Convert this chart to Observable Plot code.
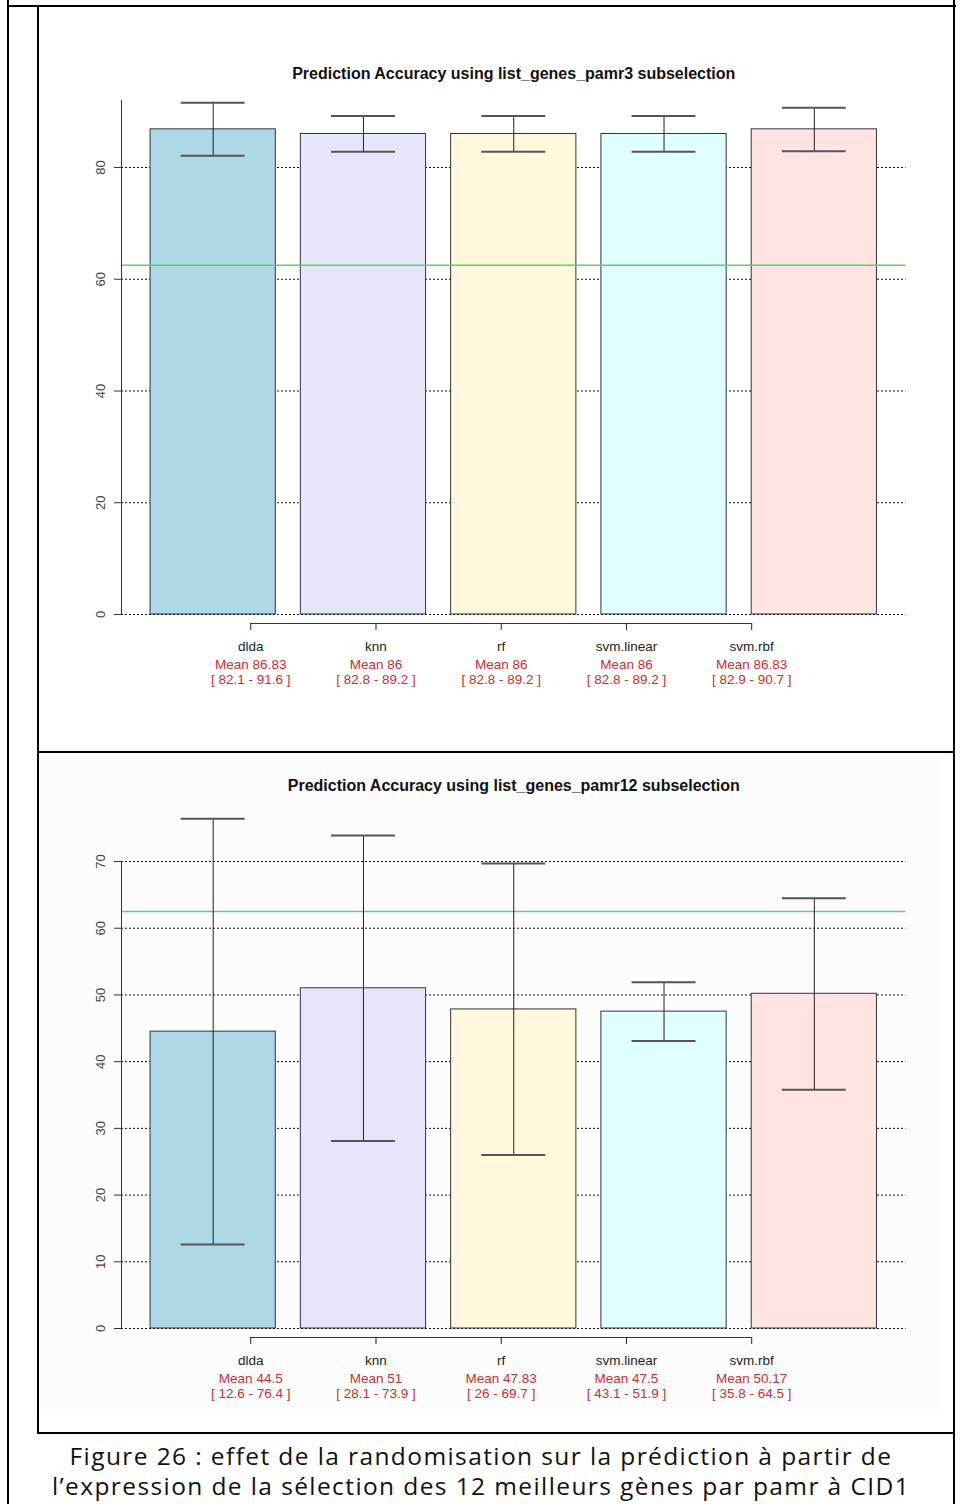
<!DOCTYPE html>
<html>
<head>
<meta charset="utf-8">
<script src="https://cdn.jsdelivr.net/npm/d3@7"></script>
<script src="https://cdn.jsdelivr.net/npm/@observablehq/plot@0.6"></script>
<style>
  html, body { margin: 0; padding: 0; background: #fff; }
  #page { position: relative; width: 972px; height: 1504px; overflow: hidden; background: #fff; }
  .ln { position: absolute; background: #000; }
  .chart { position: absolute; }
  .cap { position: absolute; left: 8px; width: 946px; height: 30px; text-align: center;
    font-family: "Open Sans", Lato, sans-serif; font-size: 24.5px; line-height: 30px; color: #111;
    white-space: nowrap; letter-spacing: 1.4px; }
</style>
</head>
<body>
<div id="page">
  <div class="ln" style="left:7px;top:0;width:2px;height:1504px"></div>
  <div class="ln" style="left:7px;top:5px;width:949px;height:2px"></div>
  <div class="ln" style="left:37px;top:5px;width:2px;height:1429px"></div>
  <div class="ln" style="left:953px;top:0;width:2px;height:1504px"></div>
  <div class="ln" style="left:37px;top:1432px;width:918px;height:2px"></div>
  <div class="ln" style="left:37px;top:751px;width:918px;height:2px"></div>
  <div style="position:absolute;left:39px;top:753px;width:900px;height:660px;background:#fcfcfc"></div>
  <div id="chartA" class="chart" style="left:38px;top:6px"></div>
  <div id="chartB" class="chart" style="left:38px;top:752px"></div>
  <div class="cap" style="top:1441px">Figure 26 : effet de la randomisation sur la prédiction à partir de</div>
  <div class="cap" style="top:1471px">l’expression de la sélection des 12 meilleurs gènes par pamr à CID1</div>
</div>
<script>
// ---- data ----
const categories = ["dlda", "knn", "rf", "svm.linear", "svm.rbf"];
const barColors = ["#ADD8E6", "#E6E6FA", "#FFF8DC", "#E0FFFF", "#FFE4E1"];

const titleA = "Prediction Accuracy using list_genes_pamr3 subselection";
const meansA = [86.83, 86, 86, 86, 86.83];
const lowA   = [82.1, 82.8, 82.8, 82.8, 82.9];
const highA  = [91.6, 89.2, 89.2, 89.2, 90.7];
const yTicksA = [0, 20, 40, 60, 80];

const titleB = "Prediction Accuracy using list_genes_pamr12 subselection";
const meansB = [44.5, 51, 47.83, 47.5, 50.17];
const lowB   = [12.6, 28.1, 26, 43.1, 35.8];
const highB  = [76.4, 73.9, 69.7, 51.9, 64.5];
const yTicksB = [0, 10, 20, 30, 40, 50, 60, 70];

const baseline = 62.5;

// ---- chart builder (R barplot coordinates: bars of width 1, space 0.2) ----
const FONT = "'Liberation Sans', Arial, sans-serif";
const RED = "#c8302f";

function rows(means, lows, highs) {
  return categories.map((c, i) => ({
    cat: c, mean: means[i], lo: lows[i], hi: highs[i], color: barColors[i],
    left: 0.2 + 1.2 * i, right: 1.2 + 1.2 * i, mid: 0.7 + 1.2 * i, tick: i + 1
  }));
}

function chart({title, data, yTicks, height, yMin, yMax, axisTop, marginTop, marginBottom, titleDy}) {
  const xMin = -0.032, xMax = 6.232;
  const capHalf = 0.255;
  return Plot.plot({
    width: 916, height,
    marginLeft: 83, marginRight: 48.5, marginTop, marginBottom,
    x: {domain: [xMin, xMax], axis: null},
    y: {domain: [yMin, yMax], axis: null},
    color: {type: "identity"},
    style: {fontFamily: FONT, background: "transparent", overflow: "visible"},
    marks: [
      Plot.ruleY(yTicks, {stroke: "#111", strokeDasharray: "2,2", strokeWidth: 1}),
      Plot.rectY(data, {x1: "left", x2: "right", y1: 0, y2: "mean", fill: "color", stroke: "#333", strokeWidth: 1}),
      Plot.ruleY([baseline], {stroke: "#66cc66", strokeWidth: 1.5}),
      Plot.ruleX(data, {x: "mid", y1: "lo", y2: "hi", stroke: "#222", strokeWidth: 1}),
      Plot.ruleY(data, {y: "lo", x1: d => d.mid - capHalf, x2: d => d.mid + capHalf, stroke: "#555", strokeWidth: 2}),
      Plot.ruleY(data, {y: "hi", x1: d => d.mid - capHalf, x2: d => d.mid + capHalf, stroke: "#555", strokeWidth: 2}),
      // y axis
      Plot.ruleX([xMin], {y1: 0, y2: axisTop, stroke: "#333"}),
      Plot.axisY({ticks: yTicks, tickSize: 7, tickFormat: () => "", stroke: "#333"}),
      Plot.text(yTicks, {frameAnchor: "left", y: d => d, text: d => String(d), rotate: -90, dx: -21,
        fontSize: 13, fill: "#444", textAnchor: "middle"}),
      // x axis
      Plot.ruleY([yMin], {x1: 1, x2: 5, stroke: "#333"}),
      Plot.axisX({ticks: data.map(d => d.tick), tickSize: 7, tickPadding: 11,
        tickFormat: d => categories[d - 1], fontSize: 13.5, color: "#222"}),
      Plot.text(data, {x: "tick", frameAnchor: "bottom", lineAnchor: "top", dy: 34, lineHeight: 1.15,
        text: d => `Mean ${d.mean}\n[ ${d.lo} - ${d.hi} ]`, fill: RED, fontSize: 13.5}),
      // title
      Plot.text([title], {frameAnchor: "top", dy: titleDy, fontSize: 16, fontWeight: "bold", fill: "#111"})
    ]
  });
}

document.getElementById("chartA").append(chart({
  title: titleA, data: rows(meansA, lowA, highA), yTicks: yTicksA,
  height: 746, yMin: -1.611, yMax: 95, axisTop: 92,
  marginTop: 77.19, marginBottom: 129, titleDy: -16
}));

document.getElementById("chartB").append(chart({
  title: titleB, data: rows(meansB, lowB, highB), yTicks: yTicksB,
  height: 681, yMin: -1.349, yMax: 80, axisTop: 70,
  marginTop: 42.3, marginBottom: 96, titleDy: -15
}));
</script>
</body>
</html>
